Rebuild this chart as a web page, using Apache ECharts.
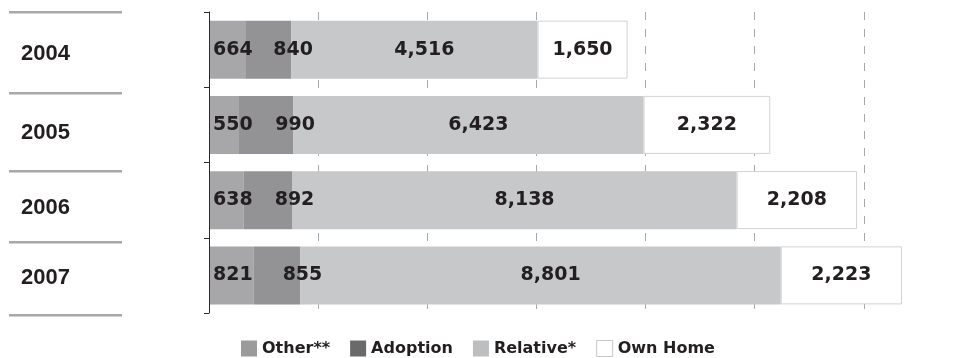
<!DOCTYPE html>
<html>
<head>
<meta charset="utf-8">
<script src="https://cdn.jsdelivr.net/npm/echarts@6/dist/echarts.min.js"></script>
<style>
  html, body { margin: 0; padding: 0; background: #fff; }
  #chart { width: 960px; height: 358px; }
</style>
</head>
<body>
<div id="chart"></div>
<script>
// Placements by year, stacked by type of placement
const years = ['2004', '2005', '2006', '2007'];
const seriesNames = ['Other**', 'Adoption', 'Relative*', 'Own Home'];
const other = [664, 550, 638, 821];
const adoption = [840, 990, 892, 855];
const relative = [4516, 6423, 8138, 8801];
const ownHome = [1650, 2322, 2208, 2223];

const axisMax = 14000;
const axisStep = 2000;

const barColors = ['#a7a7a9', '#939396', '#c7c8ca', '#ffffff'];
const legendColors = ['#9b9b9b', '#6a6a6a', '#bdbec0', '#ffffff'];
const ink = '#231f20';
const labelFont = '"DejaVu Sans", sans-serif';

// small vertical nudges for the year column text
const yearNudge = [4, 8, 8, 3];

const chart = echarts.init(document.getElementById('chart'), null, { renderer: 'canvas' });

const fmt = v => v.toLocaleString('en-US');

function labelBase() {
  return {
    show: true,
    color: ink,
    fontFamily: labelFont,
    fontWeight: 'bold',
    fontSize: 19,
    formatter: p => fmt(p.value)
  };
}

const labelSpecs = [
  Object.assign(labelBase(), { position: 'insideLeft', distance: 4 }),
  Object.assign(labelBase(), { position: ['100%', '50%'], align: 'center', verticalAlign: 'middle', offset: [2, 0] }),
  Object.assign(labelBase(), { position: 'inside', offset: [10, 0] }),
  Object.assign(labelBase(), { position: 'inside' })
];

const values = [other, adoption, relative, ownHome];

const series = seriesNames.map((name, i) => ({
  name: name,
  type: 'bar',
  stack: 'total',
  barWidth: 58,
  data: values[i],
  itemStyle: i === 3
    ? { color: barColors[i], borderColor: '#d2d2d2', borderWidth: 1 }
    : { color: barColors[i] },
  label: labelSpecs[i],
  emphasis: { disabled: true },
  z: 3
}));

const yearRich = {};
yearNudge.forEach((d, i) => {
  yearRich['y' + i] = {
    color: ink,
    fontFamily: '"Liberation Sans", Arial, sans-serif',
    fontWeight: 'bold',
    fontSize: 22,
    padding: [d * 2, 0, 0, 0]
  };
});

// separators of the year column
const sepRows = [12, 93, 171, 242, 315];
const graphics = sepRows.map(y => ({
  type: 'rect',
  shape: { x: 9, y: y - 1, width: 113, height: 2.5 },
  style: { fill: '#a8a8a8' },
  silent: true
}));

chart.setOption({
  animation: false,
  backgroundColor: '#ffffff',
  // the value axis runs on past the right edge of the canvas
  grid: { left: 209, top: 12, height: 301, width: 764, containLabel: false, outerBoundsMode: 'none' },
  xAxis: {
    type: 'value',
    min: 0,
    max: axisMax,
    interval: axisStep,
    axisLabel: { show: false },
    axisLine: { show: false },
    axisTick: { show: false },
    splitLine: { show: true, lineStyle: { color: '#a9a9a9', width: 1, type: [8, 9] } }
  },
  yAxis: {
    type: 'category',
    data: years,
    inverse: true,
    axisLine: { show: true, lineStyle: { color: '#2a2a2a', width: 1 } },
    axisTick: { show: true, length: 5, lineStyle: { color: '#2a2a2a', width: 1 } },
    axisLabel: {
      align: 'left',
      margin: 188,
      formatter: (v, idx) => '{y' + idx + '|' + v + '}',
      rich: yearRich
    },
    z: 5
  },
  legend: {
    left: 241,
    top: 340,
    padding: 0,
    itemWidth: 16,
    itemHeight: 16,
    itemGap: 20,
    icon: 'rect',
    selectedMode: false,
    textStyle: { color: ink, fontFamily: labelFont, fontWeight: 'bold', fontSize: 16 },
    data: seriesNames.map((n, i) => ({
      name: n,
      itemStyle: i === 3
        ? { color: legendColors[i], borderColor: '#c8c8c8', borderWidth: 1 }
        : { color: legendColors[i], borderWidth: 0 }
    }))
  },
  graphic: graphics,
  series: series
});
</script>
</body>
</html>
